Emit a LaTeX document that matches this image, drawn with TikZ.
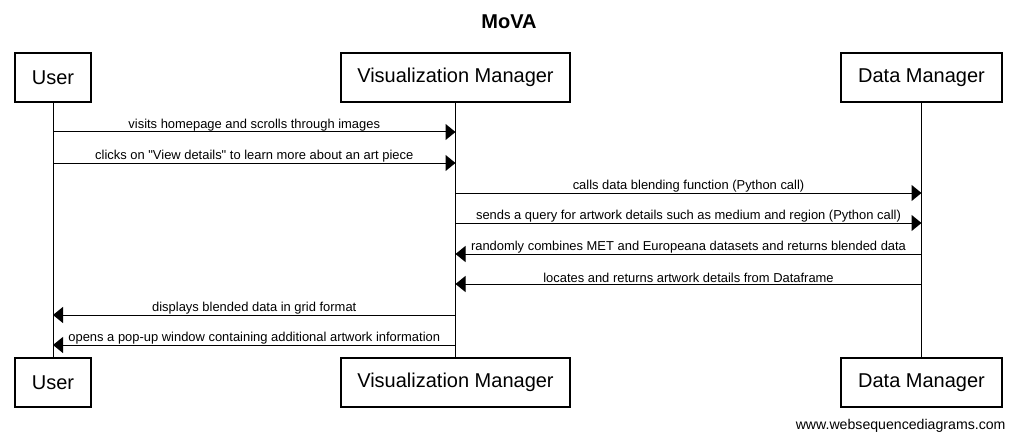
\documentclass[tikz,border=0pt]{standalone}
\usepackage{fontspec}
\setmainfont{Liberation Sans}
\usetikzlibrary{arrows.meta}

\begin{document}
\begin{tikzpicture}[x=0.75pt,y=0.75pt,line width=0.75pt,
    actor/.style={draw,line width=0.9pt,minimum height=36.75pt,inner sep=0pt,font=\fontsize{15}{18}\selectfont},
    msg/.style={-{Triangle[width=12pt,length=7.5pt]}},
    lbl/.style={above,inner sep=0.6pt,font=\fontsize{9.7}{11}\selectfont}]
    \useasboundingbox (0,0) rectangle (1016,-442);
    % title
    \node[font=\bfseries\fontsize{15}{18}\selectfont] (title) at (509,-22) {MoVA};
    % participants
    \node[actor,minimum width=57pt] (usertop) at (53,-77.5) {User};
    \node[actor,minimum width=171.75pt] (vistop) at (455.5,-77.5) {Visualization Manager};
    \node[actor,minimum width=120.75pt] (datatop) at (921.5,-77.5) {Data Manager};
    \node[actor,minimum width=57pt] (userbot) at (53,-382.5) {User};
    \node[actor,minimum width=171.75pt] (visbot) at (455.5,-382.5) {Visualization Manager};
    \node[actor,minimum width=120.75pt] (databot) at (921.5,-382.5) {Data Manager};
    % lifelines
    \draw (usertop) -- (userbot);
    \draw (vistop) -- (visbot);
    \draw (datatop) -- (databot);
    % messages
    \draw[msg] (usertop |- 0,-132) -- node[lbl] {visits homepage and scrolls through images} (vistop |- 0,-132);
    \draw[msg] (usertop |- 0,-163) -- node[lbl] {clicks on \textquotedbl View details\textquotedbl\ to learn more about an art piece} (vistop |- 0,-163);
    \draw[msg] (vistop |- 0,-193) -- node[lbl] {calls data blending function (Python call)} (datatop |- 0,-193);
    \draw[msg] (vistop |- 0,-223) -- node[lbl] {sends a query for artwork details such as medium and region (Python call)} (datatop |- 0,-223);
    \draw[msg] (datatop |- 0,-254) -- node[lbl] {randomly combines MET and Europeana datasets and returns blended data} (vistop |- 0,-254);
    \draw[msg] (datatop |- 0,-284) -- node[lbl] {locates and returns artwork details from Dataframe} (vistop |- 0,-284);
    \draw[msg] (vistop |- 0,-315) -- node[lbl] {displays blended data in grid format} (usertop |- 0,-315);
    \draw[msg] (vistop |- 0,-345) -- node[lbl] {opens a pop-up window containing additional artwork information} (usertop |- 0,-345);
    % watermark
    \node[anchor=east,inner sep=0pt,font=\fontsize{10.6}{12}\selectfont] (mark) at (1006,-426) {www.websequencediagrams.com};
\end{tikzpicture}
\end{document}
